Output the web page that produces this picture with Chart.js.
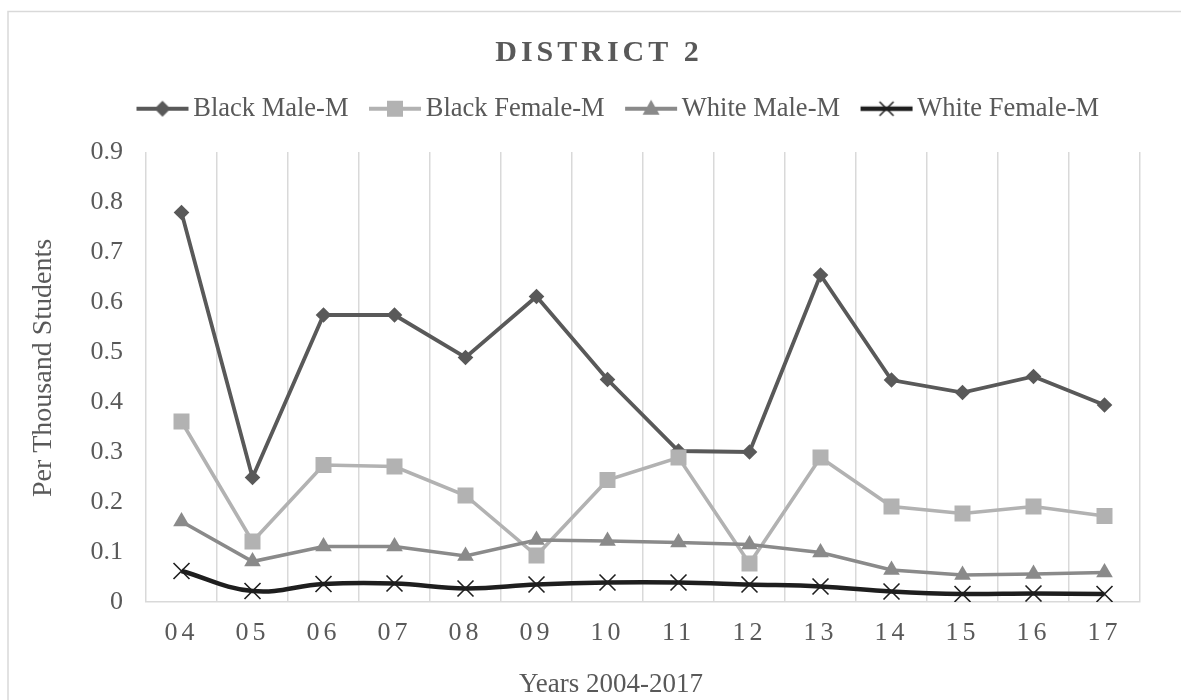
<!DOCTYPE html>
<html>
<head>
<meta charset="utf-8">
<title>District 2</title>
<script src="https://cdn.jsdelivr.net/npm/chart.js@4/dist/chart.umd.min.js"></script>
<style>
  body { margin: 0; background: #fff; }
  canvas { display: block; }
</style>
</head>
<body>
<canvas id="graficoLinea" width="1181" height="700"></canvas>
<script>
/** Years on the x axis (2004-2017) */
const years = ['04', '05', '06', '07', '08', '09', '10', '11', '12', '13', '14', '15', '16', '17'];

/** Rates per thousand students */
const blackMale = [0.779, 0.249, 0.574, 0.574, 0.489, 0.611, 0.445, 0.302, 0.300, 0.654, 0.444, 0.419, 0.451, 0.394];
const blackFemale = [0.361, 0.121, 0.274, 0.271, 0.213, 0.093, 0.244, 0.289, 0.077, 0.289, 0.191, 0.177, 0.191, 0.172];
const whiteMale = [0.161, 0.081, 0.111, 0.111, 0.092, 0.124, 0.122, 0.119, 0.115, 0.099, 0.064, 0.054, 0.056, 0.059];
const whiteFemale = [0.062, 0.022, 0.036, 0.037, 0.027, 0.035, 0.039, 0.039, 0.035, 0.031, 0.021, 0.016, 0.017, 0.016];

const seriesNames = ['Black Male-M', 'Black Female-M', 'White Male-M', 'White Female-M'];
const yTicks = { min: 0, max: 0.9, step: 0.1 };

const serif = '"Liberation Serif", "Times New Roman", serif';
const gris = '#595959';

/** small line+marker picture for each legend entry */
function iconoLeyenda(color, grosor, forma) {
    const c = document.createElement('canvas');
    c.width = 64;
    c.height = 24;
    const g = c.getContext('2d');
    g.strokeStyle = color;
    g.fillStyle = color;
    g.lineWidth = grosor;
    g.beginPath();
    g.moveTo(10, 12);
    g.lineTo(62, 12);
    g.stroke();
    const x = 36, y = 12;
    g.beginPath();
    if (forma == 'diamond') {
        g.moveTo(x - 8, y); g.lineTo(x, y - 8); g.lineTo(x + 8, y); g.lineTo(x, y + 8);
        g.closePath(); g.fill();
    } else if (forma == 'square') {
        g.fillRect(x - 8, y - 8, 16, 16);
    } else if (forma == 'triangle') {
        g.moveTo(x, y - 9); g.lineTo(x + 8.5, y + 6); g.lineTo(x - 8.5, y + 6);
        g.closePath(); g.fill();
    } else {
        g.lineWidth = 1.5;
        g.moveTo(x - 7, y - 7); g.lineTo(x + 7, y + 7);
        g.moveTo(x + 7, y - 7); g.lineTo(x - 7, y + 7);
        g.stroke();
    }
    return c;
}

const iconos = [
    iconoLeyenda('#595959', 4, 'diamond'),
    iconoLeyenda('#b2b2b2', 4, 'square'),
    iconoLeyenda('#8a8a8a', 4, 'triangle'),
    iconoLeyenda('#1e1e1e', 4.5, 'cross')
];

/** wraps a draw method to move it and/or space out its letters */
function envolver(obj, metodo, dx, dy, espacio) {
    const original = obj[metodo];
    obj[metodo] = function (...args) {
        const c = this.ctx;
        c.save();
        c.translate(dx, dy);
        c.letterSpacing = espacio;
        original.apply(this, args);
        c.letterSpacing = '0px';
        c.restore();
    };
}

const ajustes = {
    id: 'ajustes',
    beforeDraw(chart) {
        const ctx = chart.ctx;
        // outer frame of the chart
        ctx.save();
        ctx.strokeStyle = '#d9d9d9';
        ctx.lineWidth = 1.5;
        ctx.strokeRect(8, 11.5, 1400, 900);
        ctx.restore();
        if (chart.$ajustado) return;
        chart.$ajustado = true;
        envolver(chart.titleBlock, 'draw', 29, -16, '4px');
        envolver(chart.legend, 'draw', 48, -20, '0px');
        envolver(chart.scales.x, 'drawLabels', 0, 0, '4px');
        envolver(chart.scales.x, 'drawTitle', -32, 0, '0px');
        envolver(chart.scales.y, 'drawTitle', 0, -9, '0px');
    }
};

function crearDataset(label, data, color, ancho, estilo, radio, orden) {
    return {
        label: label,
        data: data,
        borderColor: color,
        backgroundColor: color,
        borderWidth: ancho,
        pointStyle: estilo,
        pointRadius: radio,
        pointHoverRadius: radio,
        pointBackgroundColor: color,
        pointBorderColor: color,
        pointBorderWidth: 0,
        tension: 0,
        order: orden
    };
}

const datasets = [
    crearDataset(seriesNames[0], blackMale, '#595959', 3.8, 'rectRot', 7.8, 4),
    crearDataset(seriesNames[1], blackFemale, '#b2b2b2', 3.6, 'rect', 11.3, 3),
    crearDataset(seriesNames[2], whiteMale, '#8a8a8a', 3.6, 'triangle', 9.6, 2),
    crearDataset(seriesNames[3], whiteFemale, '#1e1e1e', 4.5, 'crossRot', 11.3, 1)
];
// the white female series is a smoothed line, with thin x markers
datasets[3].tension = 0.4;
datasets[3].pointBorderWidth = 1.6;

new Chart(document.getElementById('graficoLinea'), {
    type: 'line',
    data: { labels: years, datasets: datasets },
    plugins: [ajustes],
    options: {
        responsive: false,
        animation: false,
        layout: { padding: { top: 0, left: 0, right: 41, bottom: 0 } },
        plugins: {
            tooltip: { enabled: false },
            title: {
                display: true,
                text: 'DISTRICT 2',
                color: gris,
                font: { family: serif, size: 30, weight: 'bold', lineHeight: 1.2 },
                padding: { top: 33, bottom: 7 }
            },
            legend: {
                display: true,
                position: 'top',
                labels: {
                    color: gris,
                    font: { family: serif, size: 26.5 },
                    usePointStyle: true,
                    pointStyleWidth: 43,
                    padding: 21,
                    generateLabels(chart) {
                        const items = Chart.defaults.plugins.legend.labels.generateLabels(chart);
                        items.sort((a, b) => a.datasetIndex - b.datasetIndex);
                        items.forEach((it) => {
                            it.pointStyle = iconos[it.datasetIndex];
                            it.rotation = 0;
                        });
                        return items;
                    }
                }
            }
        },
        scales: {
            x: {
                offset: true,
                grid: { display: true, offset: true, color: '#d9d9d9', lineWidth: 1.5, drawTicks: false },
                border: { display: true, color: '#d9d9d9', width: 1.5 },
                ticks: { color: gris, font: { family: serif, size: 26 }, padding: 16, maxRotation: 0 },
                title: {
                    display: true,
                    text: 'Years 2004-2017',
                    color: gris,
                    font: { family: serif, size: 27 },
                    padding: { top: 0, bottom: -1 }
                },
                afterFit(s) { s.height = 98; }
            },
            y: {
                min: yTicks.min,
                max: yTicks.max,
                grid: { display: false, drawTicks: false },
                border: { display: false },
                ticks: { stepSize: yTicks.step, color: gris, font: { family: serif, size: 26 }, padding: 23 },
                title: {
                    display: true,
                    text: 'Per Thousand Students',
                    color: gris,
                    font: { family: serif, size: 28 },
                    padding: { top: 27, bottom: 0 }
                },
                afterFit(s) {
                    s.width = 146;
                    s.paddingTop = 152;
                }
            }
        }
    }
});
</script>
</body>
</html>
